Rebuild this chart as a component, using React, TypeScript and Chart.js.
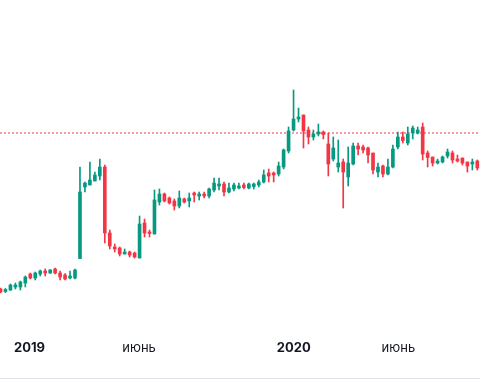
import { useEffect, useRef } from 'react';
import { Chart, registerables } from 'chart.js';

Chart.register(...registerables);

// Weekly candles (index = week number from the first visible week)
const openP = [
  51, 48.5, 50, 53, 53, 57, 66, 62, 66, 69, 67, 71, 67, 65, 62, 62,
  81.5, 153, 155, 159, 164, 173, 107, 93, 92, 86, 88, 87, 82, 117, 108, 106,
  138, 146, 142, 139, 134, 141, 139, 147, 144, 146, 144, 150, 154, 156, 148, 151,
  152, 155, 152, 153.5, 155, 158, 167, 167, 166, 173, 189, 210, 221, 225, 210, 203,
  206, 208, 196, 181, 173, 178, 163, 176, 194, 193, 192, 187, 168, 174, 166, 173,
  193, 203, 197, 207, 207, 213, 187, 183, 177, 178, 184, 187, 181, 182, 178, 176, 179,
];
const highP = [
  52, 51.5, 56, 57, 59, 64, 67, 68, 70, 71, 70.5, 72, 69, 66.5, 69, 71,
  173, 158, 178, 168, 181, 175, 110, 96, 93, 91, 89, 88, 124, 121, 110, 150,
  151, 147, 143, 141, 149, 142, 147, 148, 148, 148, 152, 162, 162, 158, 157, 157,
  157, 157, 157, 157, 160, 170, 171, 168, 178, 191, 213, 250, 232, 225, 213, 210,
  216, 209, 207, 203, 200, 181, 193, 197, 197, 195, 193, 187, 177, 175, 181, 195,
  208, 208, 213, 214, 213, 217, 189, 183, 181, 184, 191, 189, 185, 182, 178, 181, 180,
];
const lowP = [
  47, 47.5, 49.5, 51, 50, 53, 61, 60, 64, 64, 66.5, 66, 60, 60, 61, 61,
  81.5, 148, 155, 159, 160, 97, 91, 88, 84, 86, 83, 82, 82, 103, 103, 106,
  135, 138, 136, 130, 132, 137, 133, 138, 140, 142, 142, 148, 150, 144, 147, 149,
  151, 151, 151, 151, 153, 157, 158, 158, 164, 171, 187, 209, 218, 192, 196, 200,
  204, 201, 164, 179, 168, 132, 154, 175, 185, 187, 177, 166, 163, 163, 165, 172,
  191, 197, 195, 201, 206, 180, 173, 174, 176, 177, 182, 177, 178, 175, 168, 170, 170,
];
const closeP = [
  48, 50.5, 55, 55, 58, 63, 62, 67, 69, 67, 70, 67, 63, 61, 64, 70,
  148, 157, 160, 165, 173, 107, 94, 91, 86, 88, 85, 83, 116, 107, 106.5, 140,
  146, 139, 137, 134, 142, 138, 142, 145, 146, 144, 151, 157, 156, 148, 152, 155,
  154, 152.5, 156, 156, 158, 165, 164, 165, 174, 190, 209, 221, 223, 209, 203, 206,
  208, 205.5, 176, 192, 177, 168, 177, 194, 191, 190, 185, 170, 173, 166, 173, 191,
  203, 199.5, 206, 212, 210, 186, 182.5, 177, 179, 183, 188, 180, 179, 177, 174, 178, 172,
];

const tickPositions = [5.84, 27.9, 59.05, 80.1];
const tickLabels = ['2019', 'июнь', '2020', 'июнь'];
const tickBold = [true, false, true, false];

const priceLine = 207.5;

const UP = '#089981';
const DOWN = '#f23645';
const FONT = 'Inter, "Noto Sans", sans-serif';

export default function App() {
  const ref = useRef<HTMLCanvasElement>(null);

  useEffect(() => {
    if (!ref.current) return;
    const colors = openP.map((o, i) => (closeP[i] >= o ? UP : DOWN));
    const wicks = openP.map((_, i) => ({ x: i, y: [lowP[i], highP[i]] }));
    const bodies = openP.map((o, i) => {
      const lo = Math.min(o, closeP[i]);
      const hi = Math.max(o, closeP[i]);
      return { x: i, y: [lo, Math.max(hi, lo + 1)] };
    });

    const overlay = {
      id: 'overlay',
      beforeDatasetsDraw(chart: any) {
        const { ctx, chartArea, scales } = chart;
        const y = Math.round(scales.y.getPixelForValue(priceLine));
        ctx.save();
        ctx.strokeStyle = DOWN;
        ctx.lineWidth = 1;
        ctx.setLineDash([2, 2]);
        ctx.beginPath();
        ctx.moveTo(chartArea.left, y);
        ctx.lineTo(chartArea.right, y);
        ctx.stroke();
        ctx.restore();
      },
      afterDraw(chart: any) {
        const { ctx, width, height } = chart;
        ctx.save();
        ctx.strokeStyle = '#e0e3eb';
        ctx.lineWidth = 1;
        ctx.beginPath();
        ctx.moveTo(0, height - 9.5);
        ctx.lineTo(width, height - 9.5);
        ctx.stroke();
        ctx.restore();
      },
    };

    const chart = new Chart(ref.current, {
      type: 'bar',
      data: {
        datasets: [
          {
            data: wicks as any,
            backgroundColor: colors,
            barThickness: 1,
            grouped: false,
            borderWidth: 0,
            borderSkipped: false,
          } as any,
          {
            data: bodies as any,
            backgroundColor: colors,
            barThickness: 3,
            grouped: false,
            borderWidth: 0,
            borderSkipped: false,
          } as any,
        ],
      },
      options: {
        animation: false,
        responsive: true,
        maintainAspectRatio: false,
        layout: { padding: { top: 0, left: 0, right: 0, bottom: 22.4 } },
        plugins: { legend: { display: false }, tooltip: { enabled: false } },
        scales: {
          x: {
            type: 'linear',
            min: -0.1007,
            max: 96.54,
            offset: false,
            grid: { display: false, drawTicks: false },
            border: { display: false },
            afterBuildTicks: (axis: any) => {
              axis.ticks = tickPositions.map((v) => ({ value: v }));
            },
            ticks: {
              autoSkip: false,
              maxRotation: 0,
              padding: 10,
              color: '#131722',
              font: (ctx: any) => ({
                family: FONT,
                size: 13,
                weight: tickBold[ctx.index] ? 'bold' : 'normal',
              }),
              callback: (_v: any, idx: number) => tickLabels[idx],
            },
          } as any,
          y: {
            type: 'linear',
            display: false,
            min: 10,
            max: 340,
          },
        },
      },
      plugins: [overlay],
    });
    return () => chart.destroy();
  }, []);

  return (
    <div style={{ position: 'fixed', left: 0, top: 0, width: 480, height: 388, background: '#fff' }}>
      <canvas ref={ref} />
    </div>
  );
}
